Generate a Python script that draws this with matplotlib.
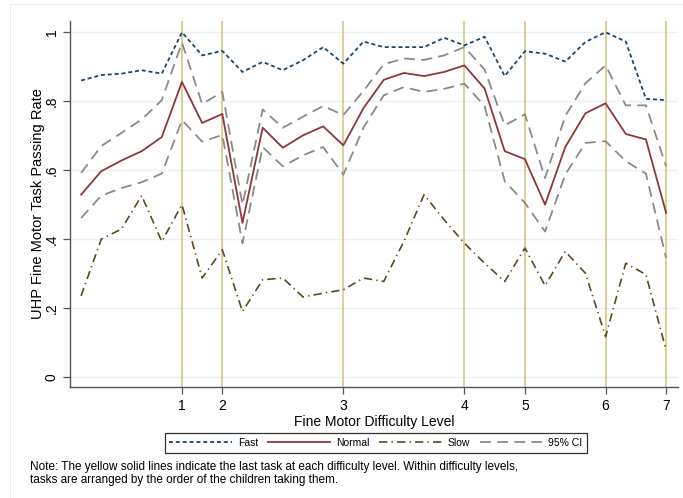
import matplotlib
matplotlib.use("Agg")
import matplotlib.pyplot as plt
from matplotlib.lines import Line2D

# Tasks ordered by difficulty level (task index 1..30)
task = list(range(1, 31))

fast = [0.860, 0.876, 0.880, 0.890, 0.880, 1.000, 0.933, 0.946, 0.885, 0.914,
        0.890, 0.919, 0.957, 0.909, 0.973, 0.957, 0.957, 0.957, 0.984, 0.962,
        0.987, 0.873, 0.945, 0.938, 0.915, 0.972, 1.000, 0.973, 0.807, 0.803]

normal = [0.529, 0.597, 0.628, 0.655, 0.696, 0.856, 0.737, 0.763, 0.447, 0.723,
          0.665, 0.701, 0.727, 0.672, 0.780, 0.862, 0.882, 0.873, 0.885, 0.904,
          0.837, 0.655, 0.632, 0.500, 0.667, 0.765, 0.794, 0.705, 0.689, 0.476]

slow = [0.235, 0.400, 0.429, 0.526, 0.393, 0.500, 0.287, 0.369, 0.190, 0.282,
        0.287, 0.232, 0.243, 0.253, 0.287, 0.277, 0.393, 0.529, 0.456, 0.388,
        0.330, 0.277, 0.374, 0.265, 0.364, 0.301, 0.117, 0.330, 0.297, 0.078]

ci_upper = [0.592, 0.670, 0.708, 0.747, 0.803, 0.970, 0.792, 0.827, 0.500, 0.776,
            0.723, 0.755, 0.786, 0.760, 0.830, 0.907, 0.924, 0.920, 0.933, 0.957,
            0.892, 0.730, 0.762, 0.577, 0.757, 0.852, 0.904, 0.788, 0.788, 0.611]

ci_lower = [0.461, 0.526, 0.548, 0.565, 0.590, 0.745, 0.683, 0.702, 0.388, 0.667,
            0.611, 0.643, 0.667, 0.587, 0.724, 0.817, 0.841, 0.827, 0.836, 0.851,
            0.786, 0.568, 0.505, 0.422, 0.587, 0.679, 0.684, 0.626, 0.590, 0.345]

# Last task of each difficulty level
level_end = [6, 8, 14, 20, 23, 27, 30]
level_labels = ["1", "2", "3", "4", "5", "6", "7"]

y_ticks = [0, 0.2, 0.4, 0.6, 0.8, 1.0]
y_labels = ["0", ".2", ".4", ".6", ".8", "1"]

c_fast = "#1a476f"
c_normal = "#90353b"
c_slow = "#5c4a1c"
c_ci = "#8a8a8a"
c_level = "#d2c27a"
c_grid = "#eaf2f3"

plt.rcParams["font.family"] = ["Liberation Sans", "DejaVu Sans"]

fig = plt.figure(figsize=(6.83, 4.98), dpi=100)
ax = fig.add_axes([0.1025, 0.223, 0.8905, 0.735])

# faint outer region outline
fig.add_artist(Line2D([10 / 683, 10 / 683], [0, 1 - 4 / 498], transform=fig.transFigure,
                      color="#e6eef0", lw=0.8))
fig.add_artist(Line2D([10 / 683, 1], [1 - 4 / 498, 1 - 4 / 498], transform=fig.transFigure,
                      color="#e6eef0", lw=0.8))

for yt in y_ticks:
    ax.axhline(yt, color=c_grid, lw=1.0, zorder=0)

for xe in level_end:
    ax.axvline(xe, color=c_level, lw=1.1, zorder=1)

ax.plot(task, ci_upper, color=c_ci, lw=1.3, dashes=(6, 3.5), zorder=2)
ax.plot(task, ci_lower, color=c_ci, lw=1.3, dashes=(6, 3.5), zorder=2)
ax.plot(task, slow, color=c_slow, lw=1.2, dashes=(5, 2.5, 0.8, 2.5), zorder=3)
ax.plot(task, normal, color=c_normal, lw=1.3, zorder=4)
ax.plot(task, fast, color=c_fast, lw=1.3, dashes=(2.2, 1.6), zorder=5)

ax.set_xlim(0.45, 30.6)
ax.set_ylim(-0.029, 1.033)

ax.set_xticks(level_end)
ax.set_xticklabels(level_labels, fontsize=10)
ax.set_yticks(y_ticks)
ax.set_yticklabels(y_labels, fontsize=10, rotation=90, va="center")

for s in ["top", "right"]:
    ax.spines[s].set_visible(False)
for s in ["left", "bottom"]:
    ax.spines[s].set_color("#555555")
    ax.spines[s].set_linewidth(1.0)
ax.tick_params(axis="both", direction="out", length=5, width=0.9, color="#555555")
ax.tick_params(axis="y", pad=3)
ax.tick_params(axis="x", pad=4)

ax.set_xlabel("Fine Motor Difficulty Level", fontsize=10, labelpad=1)
ax.set_ylabel("UHP Fine Motor Task Passing Rate", fontsize=10.5, labelpad=0)

handles = [
    Line2D([], [], color=c_fast, lw=1.3, dashes=(2.2, 1.6)),
    Line2D([], [], color=c_normal, lw=1.3),
    Line2D([], [], color=c_slow, lw=1.2, dashes=(5, 2.5, 0.8, 2.5)),
    Line2D([], [], color=c_ci, lw=1.3, dashes=(6, 3.5)),
]
leg = fig.legend(handles, ["Fast", "Normal", "Slow", "95% CI"], loc="center",
                 bbox_to_anchor=(376 / 683, 1 - 443 / 498), ncol=4, fontsize=7.5,
                 frameon=True, fancybox=False, handlelength=6, handletextpad=0.6,
                 columnspacing=0.9, borderpad=0.45, borderaxespad=0,
                 edgecolor="black")
leg.get_frame().set_linewidth(0.9)

fig.text(30 / 683, 1 - 461 / 498,
         "Note: The yellow solid lines indicate the last task at each difficulty level. Within difficulty levels,\n"
         "tasks are arranged by the order of the children taking them.",
         fontsize=8.5, va="top", ha="left", linespacing=1.15)

fig.savefig("out.png", dpi=100)
